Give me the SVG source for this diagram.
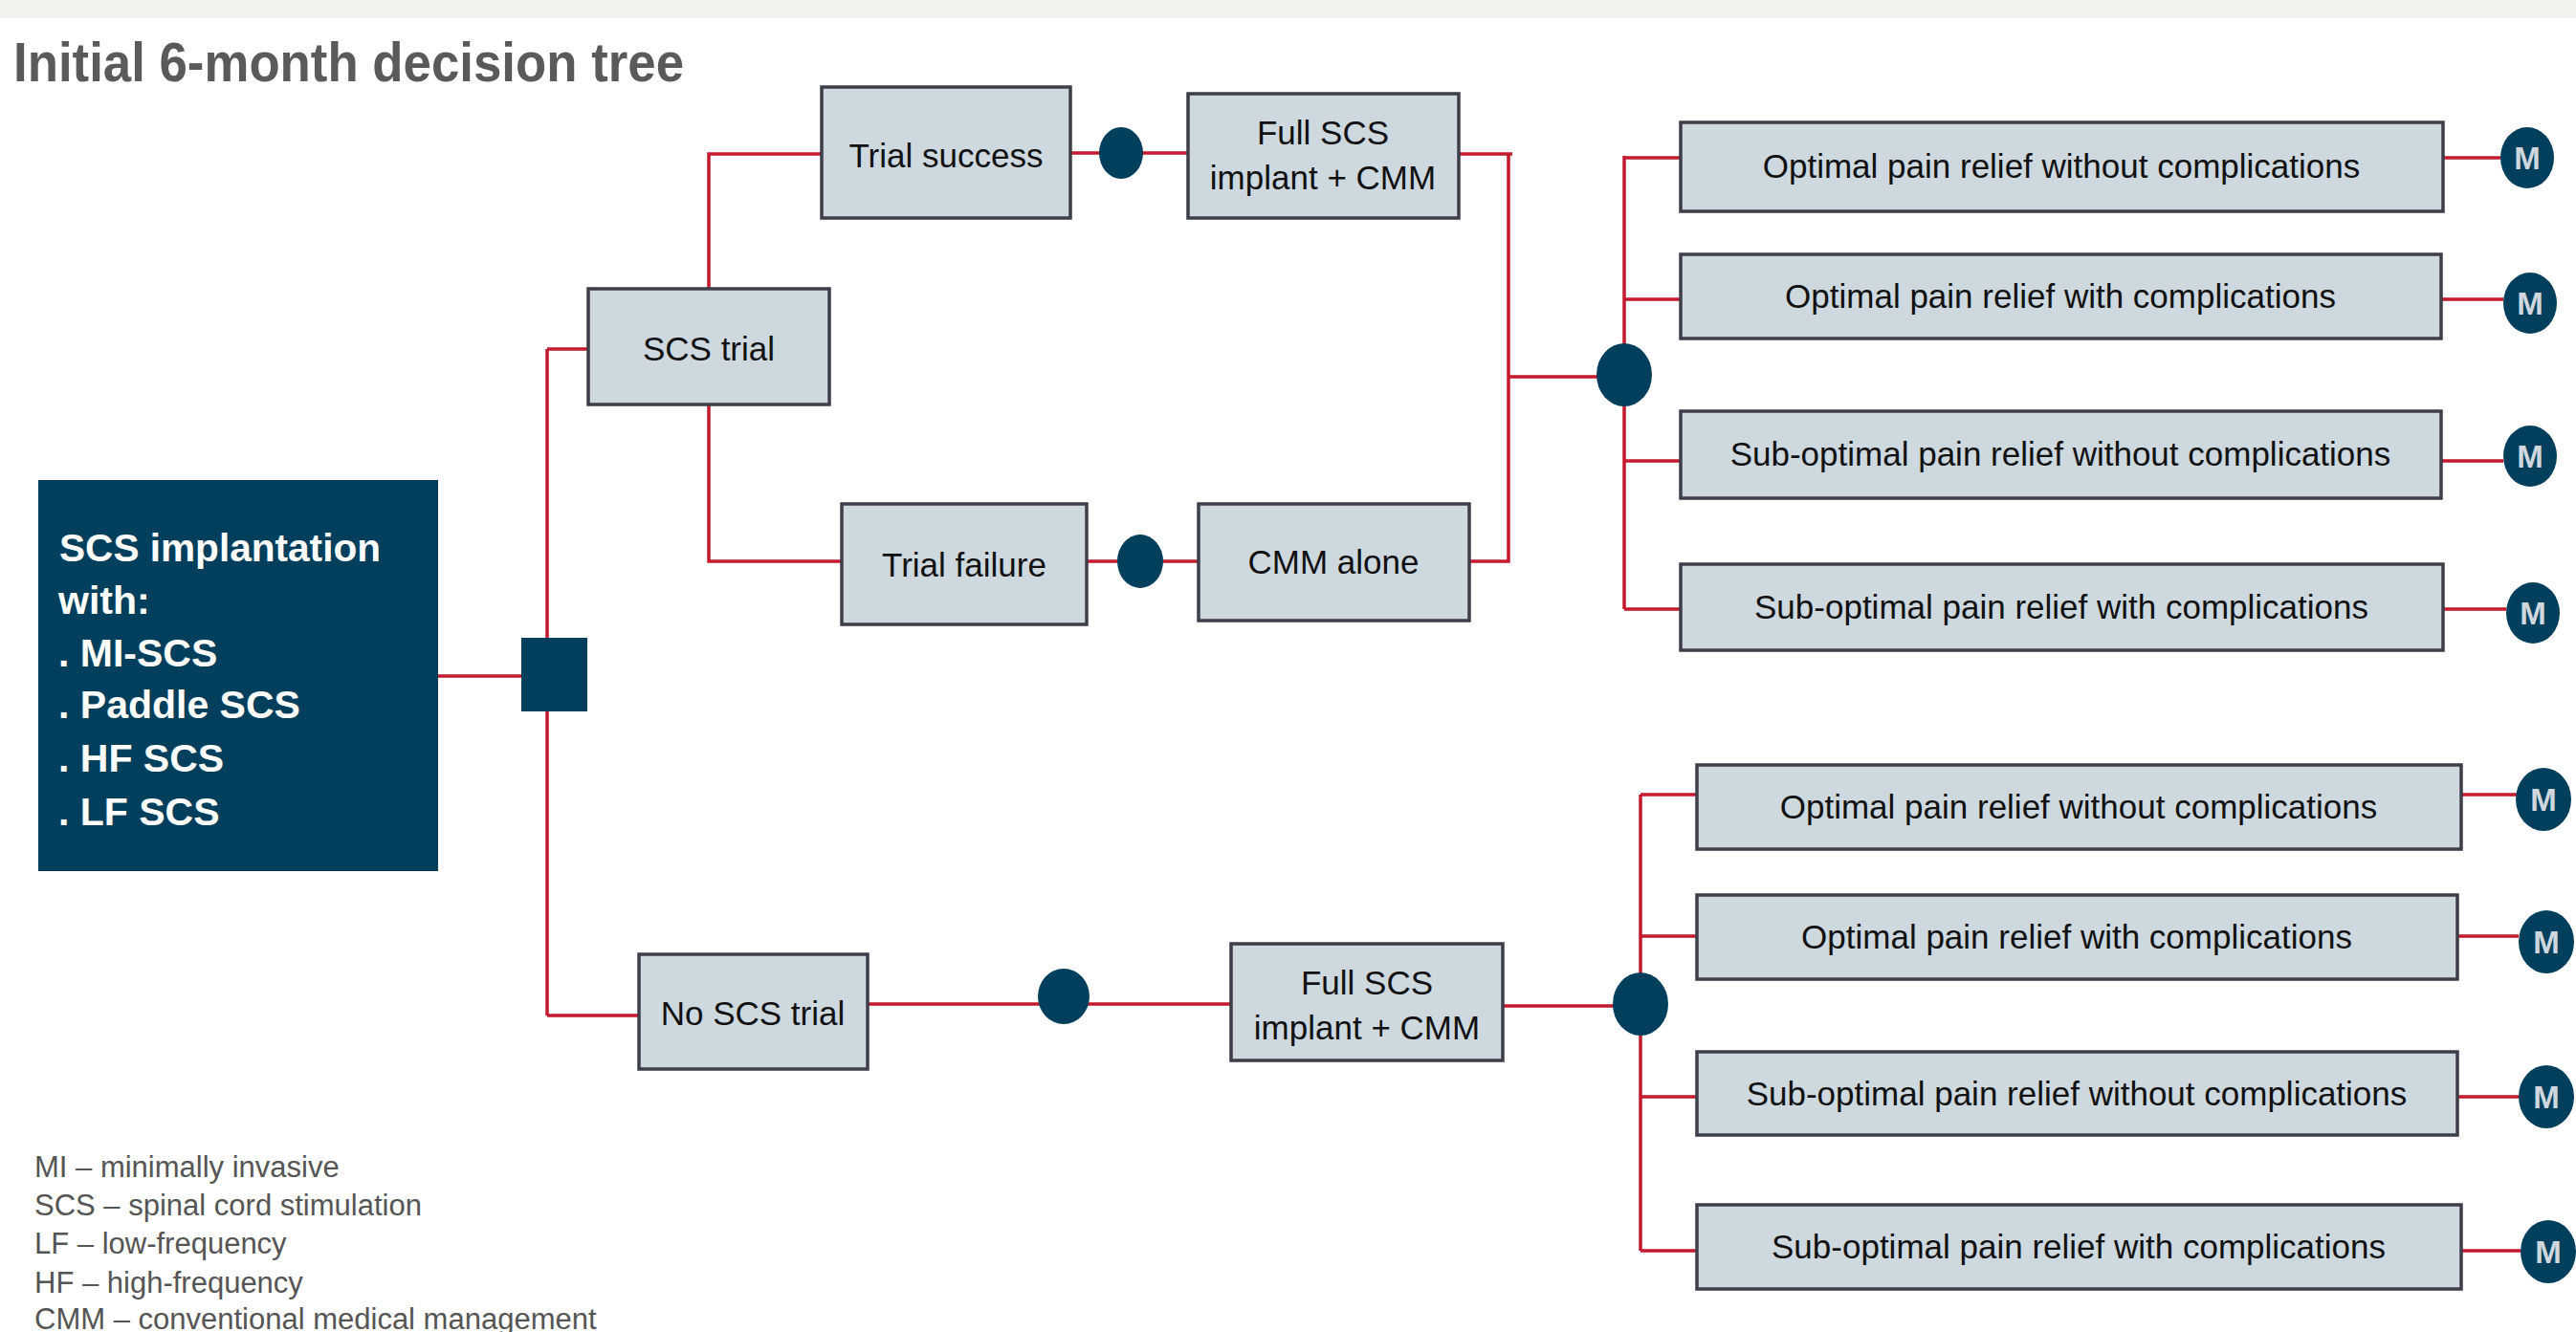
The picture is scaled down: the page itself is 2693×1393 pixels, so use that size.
<svg xmlns="http://www.w3.org/2000/svg" width="2693" height="1393" viewBox="0 0 2693 1393">
<style>
.bx{fill:#cdd8df;stroke:#3e3e4a;stroke-width:3.5}
.t{font-family:"Liberation Sans",Arial,sans-serif;font-size:35px;fill:#111;text-anchor:middle}
.ln{fill:none;stroke:#c5192d;stroke-width:3.5}
.dot{fill:#023f5c}
.m{font-family:"Liberation Sans",Arial,sans-serif;font-size:33px;font-weight:bold;fill:#cfd8de;text-anchor:middle}
.rt{font-family:"Liberation Sans",Arial,sans-serif;font-size:41px;font-weight:bold;fill:#fff}
.lg{font-family:"Liberation Sans",Arial,sans-serif;font-size:31px;fill:#555}
</style>
<rect width="2693" height="1393" fill="#fff"/>
<rect width="2693" height="19" fill="#f2f1ec"/>
<text x="14" y="85" font-family="Liberation Sans,Arial,sans-serif" font-size="57" font-weight="bold" fill="#5a5a5a" textLength="701" lengthAdjust="spacingAndGlyphs">Initial 6-month decision tree</text>

<g id="connectors">
<path class="ln" d="M458 707H545"/>
<path class="ln" d="M572 365V1062"/>
<path class="ln" d="M572 365H615"/>
<path class="ln" d="M572 1062H668"/>
<path class="ln" d="M741 302V161H859"/>
<path class="ln" d="M741 423V587H880"/>
<path class="ln" d="M1119 160H1242"/>
<path class="ln" d="M1136 587H1253"/>
<path class="ln" d="M1525 161H1581M1577 161V587H1536"/>
<path class="ln" d="M1577 394H1698"/>
<path class="ln" d="M1698 163V637"/>
<path class="ln" d="M1698 165H1757M1698 313H1757M1698 482H1757M1698 637H1757"/>
<path class="ln" d="M2554 165H2614M2552 313H2617M2552 482H2617M2554 637H2620"/>
<path class="ln" d="M907 1050H1287"/>
<path class="ln" d="M1571 1052H1715"/>
<path class="ln" d="M1715 831V1308"/>
<path class="ln" d="M1715 831H1774M1715 979H1774M1715 1147H1774M1715 1308H1774"/>
<path class="ln" d="M2573 831H2631M2569 979H2633M2569 1147H2633M2573 1308H2635"/>
</g>

<g id="root">
<rect x="40" y="502" width="418" height="409" fill="#023f5c"/>
<text class="rt" x="62" y="587" textLength="336" lengthAdjust="spacingAndGlyphs">SCS implantation</text>
<text class="rt" x="61" y="642">with:</text>
<text class="rt" x="61" y="697">. MI-SCS</text>
<text class="rt" x="61" y="751">. Paddle SCS</text>
<text class="rt" x="61" y="807">. HF SCS</text>
<text class="rt" x="61" y="863">. LF SCS</text>
</g>
<g id="decision"><rect x="545" y="667" width="69" height="77" fill="#023f5c"/></g>

<g id="scs-trial"><rect class="bx" x="615" y="302" width="252" height="121"/><text class="t" x="741" y="377">SCS trial</text></g>
<g id="trial-success"><rect class="bx" x="859" y="91" width="260" height="137"/><text class="t" x="989" y="175">Trial success</text></g>
<g id="chance-success"><ellipse class="dot" cx="1172" cy="160" rx="23" ry="27"/></g>
<g id="full-scs-1"><rect class="bx" x="1242" y="98" width="283" height="130"/><text class="t" x="1383" y="151">Full SCS</text><text class="t" x="1383" y="198">implant + CMM</text></g>
<g id="trial-failure"><rect class="bx" x="880" y="527" width="256" height="126"/><text class="t" x="1008" y="603">Trial failure</text></g>
<g id="chance-failure"><ellipse class="dot" cx="1192" cy="587" rx="24" ry="28"/></g>
<g id="cmm-alone"><rect class="bx" x="1253" y="527" width="283" height="122"/><text class="t" x="1394" y="600">CMM alone</text></g>
<g id="chance-top"><ellipse class="dot" cx="1698" cy="392" rx="29" ry="33"/></g>

<g id="top-o1"><rect class="bx" x="1757" y="128" width="797" height="93"/><text class="t" x="2155" y="186">Optimal pain relief without complications</text></g>
<g id="top-o2"><rect class="bx" x="1757" y="266" width="795" height="88"/><text class="t" x="2154" y="322">Optimal pain relief with complications</text></g>
<g id="top-o3"><rect class="bx" x="1757" y="430" width="795" height="91"/><text class="t" x="2154" y="487">Sub-optimal pain relief without complications</text></g>
<g id="top-o4"><rect class="bx" x="1757" y="590" width="797" height="90"/><text class="t" x="2155" y="647">Sub-optimal pain relief with complications</text></g>
<g id="top-m1"><ellipse class="dot" cx="2642" cy="165" rx="28" ry="32"/><text class="m" x="2642" y="177">M</text></g>
<g id="top-m2"><ellipse class="dot" cx="2645" cy="317" rx="28" ry="32"/><text class="m" x="2645" y="329">M</text></g>
<g id="top-m3"><ellipse class="dot" cx="2645" cy="477" rx="28" ry="32"/><text class="m" x="2645" y="489">M</text></g>
<g id="top-m4"><ellipse class="dot" cx="2648" cy="641" rx="28" ry="32"/><text class="m" x="2648" y="653">M</text></g>

<g id="no-scs-trial"><rect class="bx" x="668" y="998" width="239" height="120"/><text class="t" x="787" y="1072">No SCS trial</text></g>
<g id="chance-no-trial"><ellipse class="dot" cx="1112" cy="1042" rx="27" ry="29"/></g>
<g id="full-scs-2"><rect class="bx" x="1287" y="987" width="284" height="122"/><text class="t" x="1429" y="1040">Full SCS</text><text class="t" x="1429" y="1087">implant + CMM</text></g>
<g id="chance-bottom"><ellipse class="dot" cx="1715" cy="1050" rx="29" ry="33"/></g>

<g id="bot-o1"><rect class="bx" x="1774" y="800" width="799" height="88"/><text class="t" x="2173" y="856">Optimal pain relief without complications</text></g>
<g id="bot-o2"><rect class="bx" x="1774" y="936" width="795" height="88"/><text class="t" x="2171" y="992">Optimal pain relief with complications</text></g>
<g id="bot-o3"><rect class="bx" x="1774" y="1100" width="795" height="87"/><text class="t" x="2171" y="1156">Sub-optimal pain relief without complications</text></g>
<g id="bot-o4"><rect class="bx" x="1774" y="1260" width="799" height="88"/><text class="t" x="2173" y="1316">Sub-optimal pain relief with complications</text></g>
<g id="bot-m1"><ellipse class="dot" cx="2659" cy="836" rx="29" ry="33"/><text class="m" x="2659" y="848">M</text></g>
<g id="bot-m2"><ellipse class="dot" cx="2662" cy="985" rx="29" ry="33"/><text class="m" x="2662" y="997">M</text></g>
<g id="bot-m3"><ellipse class="dot" cx="2662" cy="1147" rx="29" ry="33"/><text class="m" x="2662" y="1159">M</text></g>
<g id="bot-m4"><ellipse class="dot" cx="2664" cy="1309" rx="29" ry="33"/><text class="m" x="2664" y="1321">M</text></g>

<g id="legend">
<text class="lg" x="36" y="1231">MI – minimally invasive</text>
<text class="lg" x="36" y="1271">SCS – spinal cord stimulation</text>
<text class="lg" x="36" y="1311">LF – low-frequency</text>
<text class="lg" x="36" y="1352">HF – high-frequency</text>
<text class="lg" x="36" y="1390">CMM – conventional medical management</text>
</g>
</svg>
